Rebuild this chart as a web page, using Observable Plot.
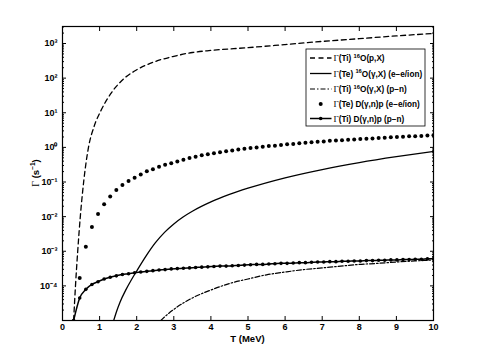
<!DOCTYPE html>
<html><head><meta charset="utf-8">
<script src="https://cdn.jsdelivr.net/npm/d3@7"></script>
<script src="https://cdn.jsdelivr.net/npm/@observablehq/plot@0.6"></script>
<style>body{margin:0;background:#fff;} svg{display:block}</style>
</head><body><div id="chart"></div>
<script>
// Γ(Ti) 16O(p,X) — dashed
const tPX = [0.30,0.35,0.41,0.48,0.57,0.70,0.85,1.03,1.30,1.65,2.0,2.5,3.0,3.5,4.0,5.0,6.0,7.0,8.0,9.0,10.0];
const gPX = [1e-5,1e-4,1e-3,1e-2,0.1,1.0,3.98,11.2,35.5,95.5,174,302,427,550,631,759,933,1150,1380,1660,1950];
// Γ(Te) 16O(γ,X) (e-e/ion) — solid
const tGX_ee = [1.38,1.45,1.55,1.7,1.85,2.0,2.25,2.5,2.75,3.0,3.25,3.5,4.0,4.5,5.0,6.0,7.0,8.0,9.0,10.0];
const gGX_ee = [1e-5,1.74e-5,3.39e-5,7.41e-5,1.45e-4,2.69e-4,7.24e-4,1.74e-3,3.51e-3,6.17e-3,9.77e-3,1.43e-2,2.66e-2,4.37e-2,6.61e-2,0.132,0.229,0.363,0.537,0.759];
// Γ(Ti) 16O(γ,X) (p-n) — dash-dot
const tGX_pn = [2.65,2.8,3.0,3.5,4.0,4.5,5.0,5.5,6.0,6.5,7.0,7.5,8.0,8.5,9.0,9.5,10.0];
const gGX_pn = [1e-5,1.41e-5,2.09e-5,4.47e-5,7.59e-5,1.17e-4,1.58e-4,2.09e-4,2.51e-4,2.95e-4,3.31e-4,3.72e-4,4.17e-4,4.47e-4,4.90e-4,5.25e-4,5.62e-4];
// sample temperatures of the marked series
const tMarks = [0.300,0.464,0.629,0.793,0.958,1.122,1.286,1.451,1.615,1.780,1.944,2.109,2.273,2.437,2.602,2.766,2.931,3.095,3.259,3.424,3.588,3.753,3.917,4.082,4.246,4.410,4.575,4.739,4.904,5.068,5.232,5.397,5.561,5.726,5.890,6.054,6.219,6.383,6.548,6.712,6.877,7.041,7.205,7.370,7.534,7.699,7.863,8.027,8.192,8.356,8.521,8.685,8.850,9.014,9.178,9.343,9.507,9.672,9.836,10.000];
// Γ(Te) D(γ,n)p (e-e/ion) — dots (first sample below axis)
const gDN_ee = [null,1.70e-4,1.35e-3,5.0e-3,1.20e-2,2.29e-2,3.80e-2,5.89e-2,8.13e-2,0.107,0.132,0.166,0.204,0.234,0.275,0.316,0.347,0.389,0.437,0.490,0.537,0.589,0.631,0.676,0.724,0.776,0.813,0.871,0.912,0.955,1.0,1.05,1.10,1.12,1.17,1.23,1.26,1.32,1.35,1.41,1.45,1.48,1.55,1.58,1.62,1.66,1.70,1.74,1.78,1.82,1.86,1.91,1.95,2.00,2.04,2.09,2.11,2.14,2.19,2.24];
// Γ(Ti) D(γ,n)p (p-n) — solid with dots
const gDN_pn = [1.0e-5,4.47e-5,7.94e-5,1.10e-4,1.32e-4,1.58e-4,1.78e-4,1.95e-4,2.14e-4,2.24e-4,2.40e-4,2.51e-4,2.63e-4,2.75e-4,2.88e-4,2.95e-4,3.09e-4,3.16e-4,3.24e-4,3.31e-4,3.39e-4,3.47e-4,3.55e-4,3.63e-4,3.72e-4,3.72e-4,3.80e-4,3.89e-4,3.98e-4,4.07e-4,4.17e-4,4.17e-4,4.27e-4,4.37e-4,4.47e-4,4.47e-4,4.57e-4,4.68e-4,4.68e-4,4.79e-4,4.90e-4,4.90e-4,5.01e-4,5.01e-4,5.13e-4,5.13e-4,5.25e-4,5.25e-4,5.37e-4,5.37e-4,5.50e-4,5.50e-4,5.62e-4,5.62e-4,5.75e-4,5.75e-4,5.89e-4,5.89e-4,6.03e-4,6.03e-4];

const xTicks = [0,1,2,3,4,5,6,7,8,9,10];
const yTicks = [1e-4,1e-3,1e-2,1e-1,1,10,100,1000];
const yDomain = [1e-5, 3100];

const rows = (t,g) => t.map((x,i)=>({T:x,G:g[i]})).filter(d=>d.G!=null);
const supMap = {"-":"⁻","0":"⁰","1":"¹","2":"²","3":"³","4":"⁴","5":"⁵","6":"⁶","7":"⁷","8":"⁸","9":"⁹"};
const fmtPow = d => "10" + String(Math.round(Math.log10(d))).split("").map(c=>supMap[c]).join("");
const minor = [];
for (let e=-5; e<4; e++) for (let m=2; m<10; m++) { const v=m*Math.pow(10,e); if (v<yDomain[1]) minor.push(v); }
const blank = () => "";

const plot = Plot.plot({
  width: 478, height: 360,
  marginLeft: 62, marginRight: 45, marginTop: 26, marginBottom: 40,
  style: {fontFamily: "'Liberation Sans', Arial, sans-serif", fontWeight: "bold", fontSize: "9px", color: "black", background: "white"},
  x: {domain: [0,10]},
  y: {type: "log", domain: yDomain},
  marks: [
    Plot.line(rows(tPX,gPX), {x:"T", y:"G", stroke:"black", strokeWidth:1.3, strokeDasharray:"5,3.5", curve:"monotone-x", clip:true}),
    Plot.line(rows(tGX_ee,gGX_ee), {x:"T", y:"G", stroke:"black", strokeWidth:1.3, curve:"monotone-x", clip:true}),
    Plot.line(rows(tGX_pn,gGX_pn), {x:"T", y:"G", stroke:"black", strokeWidth:1.2, strokeDasharray:"5,2,1.5,2", curve:"monotone-x", clip:true}),
    Plot.dot(rows(tMarks,gDN_ee), {x:"T", y:"G", r:2, fill:"black", stroke:null, clip:true}),
    Plot.line(rows(tMarks,gDN_pn), {x:"T", y:"G", stroke:"black", strokeWidth:1.5, curve:"monotone-x", clip:true}),
    Plot.dot(rows(tMarks,gDN_pn), {x:"T", y:"G", r:1.8, fill:"black", stroke:null, clip:true}),
    Plot.frame({stroke:"black", strokeWidth:1.2}),
    Plot.axisX({ticks:xTicks, anchor:"bottom", tickSize:0, tickPadding:3, tickFormat:d=>String(d), label:null}),
    Plot.axisX({ticks:xTicks, anchor:"bottom", tickSize:-4, tickFormat:blank, label:null}),
    Plot.axisX({ticks:xTicks, anchor:"top", tickSize:-4, tickFormat:blank, label:null}),
    Plot.axisY({ticks:yTicks, anchor:"left", tickSize:0, tickPadding:5, tickFormat:fmtPow, label:null}),
    Plot.axisY({ticks:yTicks, anchor:"left", tickSize:-4, tickFormat:blank, label:null}),
    Plot.axisY({ticks:minor, anchor:"left", tickSize:-2, tickFormat:blank, label:null}),
    Plot.axisY({ticks:yTicks, anchor:"right", tickSize:-4, tickFormat:blank, label:null}),
    Plot.axisY({ticks:minor, anchor:"right", tickSize:-2, tickFormat:blank, label:null})
  ]
});
document.getElementById("chart").appendChild(plot);

const svg = d3.select(plot);
const sans = "'Liberation Sans', Arial, sans-serif";
const serif = "'Liberation Serif', 'Times New Roman', serif";

// x title
svg.append("text").attr("x", 247.5).attr("y", 342).attr("text-anchor","middle")
  .attr("font-family", sans).attr("font-weight","bold").attr("font-size", 9.5).attr("fill","black").text("T (MeV)");
// y title
const yt = svg.append("text").attr("transform","translate(39,173) rotate(-90)").attr("text-anchor","middle")
  .attr("font-family", sans).attr("font-weight","bold").attr("font-size", 9.5).attr("fill","black");
yt.append("tspan").attr("font-family", serif).attr("font-weight","normal").attr("font-size",10).text("Γ");
yt.append("tspan").text(" (s");
yt.append("tspan").attr("font-size",6.5).attr("dy",-4).text("−1");
yt.append("tspan").attr("dy",4).text(")");

// legend
const legendItems = [
  {who:"(Ti) ", sup:"16", rest:"O(p,X)", style:"dash"},
  {who:"(Te) ", sup:"16", rest:"O(γ,X) (e−e/ion)", style:"solid"},
  {who:"(Ti) ", sup:"16", rest:"O(γ,X) (p−n)", style:"dashdot"},
  {who:"(Te) ", sup:"", rest:"D(γ,n)p (e−e/ion)", style:"dot"},
  {who:"(Ti) ", sup:"", rest:"D(γ,n)p (p−n)", style:"linedot"}
];
const lg = svg.append("g").attr("text-anchor","start");
lg.append("rect").attr("x",306).attr("y",49).attr("width",119).attr("height",77)
  .attr("fill","white").attr("stroke","black").attr("stroke-width",0.8);
const ly = [58, 73.5, 89, 104, 118.5];
legendItems.forEach((it,i) => {
  const y = ly[i];
  if (it.style !== "dot") {
    const l = lg.append("line").attr("x1",310).attr("x2",331.5).attr("y1",y).attr("y2",y)
      .attr("stroke","black").attr("stroke-width", it.style==="linedot"?1.5:1.3);
    if (it.style==="dash") l.attr("stroke-dasharray","5,3.5");
    if (it.style==="dashdot") l.attr("stroke-dasharray","5,2,1.5,2").attr("stroke-width",1);
  }
  if (it.style==="dot" || it.style==="linedot")
    lg.append("circle").attr("cx",320.7).attr("cy",y).attr("r", it.style==="dot"?2:1.8).attr("fill","black");
  const t = lg.append("text").attr("x",333.5).attr("y",y+3).attr("text-anchor","start").attr("font-family",sans)
    .attr("font-weight","bold").attr("font-size",8.2).attr("fill","black");
  t.append("tspan").attr("font-family",serif).attr("font-weight","normal").attr("font-size",9).text("Γ");
  t.append("tspan").text(it.who);
  if (it.sup) {
    t.append("tspan").attr("font-size",5.8).attr("dy",-3.5).text(it.sup);
    t.append("tspan").attr("dy",3.5).text(it.rest);
  } else t.append("tspan").text(it.rest);
});
</script>
</body></html>
